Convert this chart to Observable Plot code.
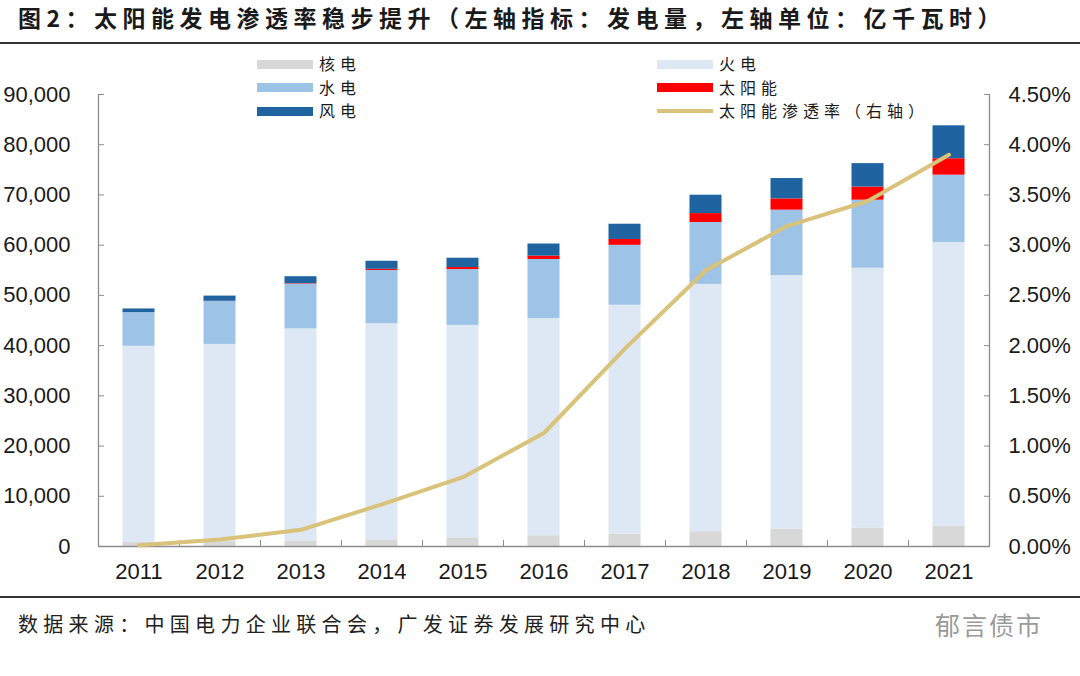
<!DOCTYPE html>
<html><head><meta charset="utf-8">
<script src="https://cdn.jsdelivr.net/npm/d3@7"></script>
<script src="https://cdn.jsdelivr.net/npm/@observablehq/plot@0.6"></script>
<style>
body{margin:0;background:#fff;}
#wrap{position:relative;width:1080px;height:676px;overflow:hidden;font-family:"Noto Sans CJK SC","Noto Sans",sans-serif;color:#1a1a1a;}
#title{position:absolute;left:18px;top:2px;font-size:23px;font-weight:700;letter-spacing:5.5px;line-height:30px;white-space:nowrap;}
#rule1{position:absolute;left:0;top:42px;width:1080px;height:2px;background:#333;}
#rule2{position:absolute;left:0;top:596px;width:1080px;height:2px;background:#333;}
#chart{position:absolute;left:0;top:48px;}
#foot{position:absolute;left:18px;top:609px;font-size:20px;letter-spacing:5.3px;line-height:30px;white-space:nowrap;color:#222;}
#mark{position:absolute;left:935px;top:607px;font-size:25px;letter-spacing:2px;line-height:34px;color:#9a9a9a;white-space:nowrap;}
.lg{position:absolute;font-size:16px;letter-spacing:5px;line-height:17px;height:17px;white-space:nowrap;}
.sw{position:absolute;}
</style></head>
<body><div id="wrap">
<div id="title"></div>
<div id="rule1"></div>
<div id="chart"></div>
<div id="legend"></div>
<div id="rule2"></div>
<div id="foot"></div>
<div id="mark"></div>
</div>
<script>
// ---- data (亿千瓦时) ----
const years   = [2011, 2012, 2013, 2014, 2015, 2016, 2017, 2018, 2019, 2020, 2021];
const nuclear = [872, 983, 1115, 1332, 1714, 2132, 2481, 2944, 3487, 3662, 4075];
const thermal = [39003, 39255, 42216, 43030, 42307, 43273, 45558, 49249, 50465, 51743, 56463];
const hydro   = [6700, 8556, 8921, 10601, 11127, 11748, 11931, 12321, 13021, 13553, 13401];
const solar   = [6, 36, 84, 235, 395, 665, 1166, 1775, 2238, 2611, 3270];
const wind    = [720, 1030, 1383, 1598, 1856, 2409, 3034, 3660, 4057, 4665, 6556];
const solarShare = [0.013, 0.07, 0.166, 0.42, 0.69, 1.13, 1.97, 2.75, 3.19, 3.44, 3.90]; // %
const seriesNames  = ["核电", "火电", "水电", "太阳能", "风电"];
const seriesColors = ["#d8d8d8", "#dde8f4", "#9dc3e6", "#ff0000", "#1f64a1"];
const lineName  = "太阳能渗透率（右轴）";
const lineColor = "#d9c27a";
const leftTicks  = [0, 10000, 20000, 30000, 40000, 50000, 60000, 70000, 80000, 90000];
const rightTicks = [0, 0.5, 1, 1.5, 2, 2.5, 3, 3.5, 4, 4.5];
const titleText  = "图2：太阳能发电渗透率稳步提升（左轴指标：发电量，左轴单位：亿千瓦时）";
const sourceText = "数据来源：中国电力企业联合会，广发证券发展研究中心";
const markText   = "郁言债市";

// ---- build table ----
const seriesValues = [nuclear, thermal, hydro, solar, wind];
const rows = [];
seriesNames.forEach((s, i) => years.forEach((y, j) => rows.push({series: s, year: y, x1: y - 0.5, x2: y + 0.5, value: seriesValues[i][j]})));
const lineRows = years.map((y, j) => ({year: y, pct: solarShare[j]}));
const leftMax = leftTicks[leftTicks.length - 1];
const rightMax = rightTicks[rightTicks.length - 1];
const k = leftMax / rightMax;
const xDomain = [years[0] - 0.5, years[years.length - 1] + 0.5];
const bounds = years.slice(0, -1).map(y => y + 0.5);
const axisColor = "#8c8c8c";

const chart = Plot.plot({
  width: 1080, height: 548,
  marginLeft: 98, marginRight: 91, marginTop: 46, marginBottom: 50,
  style: {fontFamily: '"Liberation Sans", Arial, sans-serif', fontSize: "22px", color: "#1a1a1a", background: "transparent", overflow: "visible"},
  x: {type: "linear", domain: xDomain, axis: null, label: null},
  y: {domain: [0, leftMax], axis: null, label: null},
  color: {domain: seriesNames, range: seriesColors},
  marks: [
    Plot.rectY(rows, Plot.stackY({x1: "x1", x2: "x2", y: "value", fill: "series", insetLeft: 24.5, insetRight: 24.5})),
    Plot.ruleY([0], {stroke: axisColor, strokeWidth: 1.3}),
    Plot.ruleX([xDomain[0]], {stroke: axisColor, strokeWidth: 1.3}),
    Plot.ruleX([xDomain[1]], {stroke: axisColor, strokeWidth: 1.3}),
    Plot.axisY({anchor: "left", label: null, ticks: leftTicks, tickFormat: d3.format(","), tickSize: -6, tickPadding: 34, stroke: axisColor, fill: "#1a1a1a"}),
    Plot.axisY({anchor: "right", label: null, ticks: leftTicks, tickFormat: d => (d / k).toFixed(2) + "%", tickSize: -6, tickPadding: 25, stroke: axisColor, fill: "#1a1a1a"}),
    Plot.axisX({label: null, ticks: bounds, tickSize: -6, tickFormat: () => "", stroke: axisColor}),
    Plot.axisX({label: null, ticks: years, tickSize: 0, tickPadding: 17, tickFormat: d => String(d), fill: "#1a1a1a"}),
    Plot.lineY(lineRows, {x: "year", y: d => d.pct * k, stroke: lineColor, strokeWidth: 4, strokeLinejoin: "round", strokeLinecap: "round"})
  ]
});
document.getElementById("chart").appendChild(chart);

// ---- titles ----
document.getElementById("title").textContent = titleText;
document.getElementById("foot").textContent = sourceText;
document.getElementById("mark").textContent = markText;

// ---- legend ----
const legend = document.getElementById("legend");
const items = [
  {name: seriesNames[0], color: seriesColors[0], col: 0, row: 0},
  {name: seriesNames[2], color: seriesColors[2], col: 0, row: 1},
  {name: seriesNames[4], color: seriesColors[4], col: 0, row: 2},
  {name: seriesNames[1], color: seriesColors[1], col: 1, row: 0},
  {name: seriesNames[3], color: seriesColors[3], col: 1, row: 1},
  {name: lineName, color: lineColor, col: 1, row: 2, line: true}
];
const colX = [257, 657], rowY = [64, 87.5, 111];
items.forEach(it => {
  const sw = document.createElement("div");
  sw.className = "sw";
  const h = it.line ? 4 : 9;
  sw.style.cssText = `left:${colX[it.col]}px;top:${rowY[it.row] - h / 2}px;width:56px;height:${h}px;background:${it.color};`;
  legend.appendChild(sw);
  const t = document.createElement("div");
  t.className = "lg";
  t.textContent = it.name;
  t.style.left = (colX[it.col] + 62) + "px";
  t.style.top = (rowY[it.row] - 9) + "px";
  legend.appendChild(t);
});
</script>
</body></html>
